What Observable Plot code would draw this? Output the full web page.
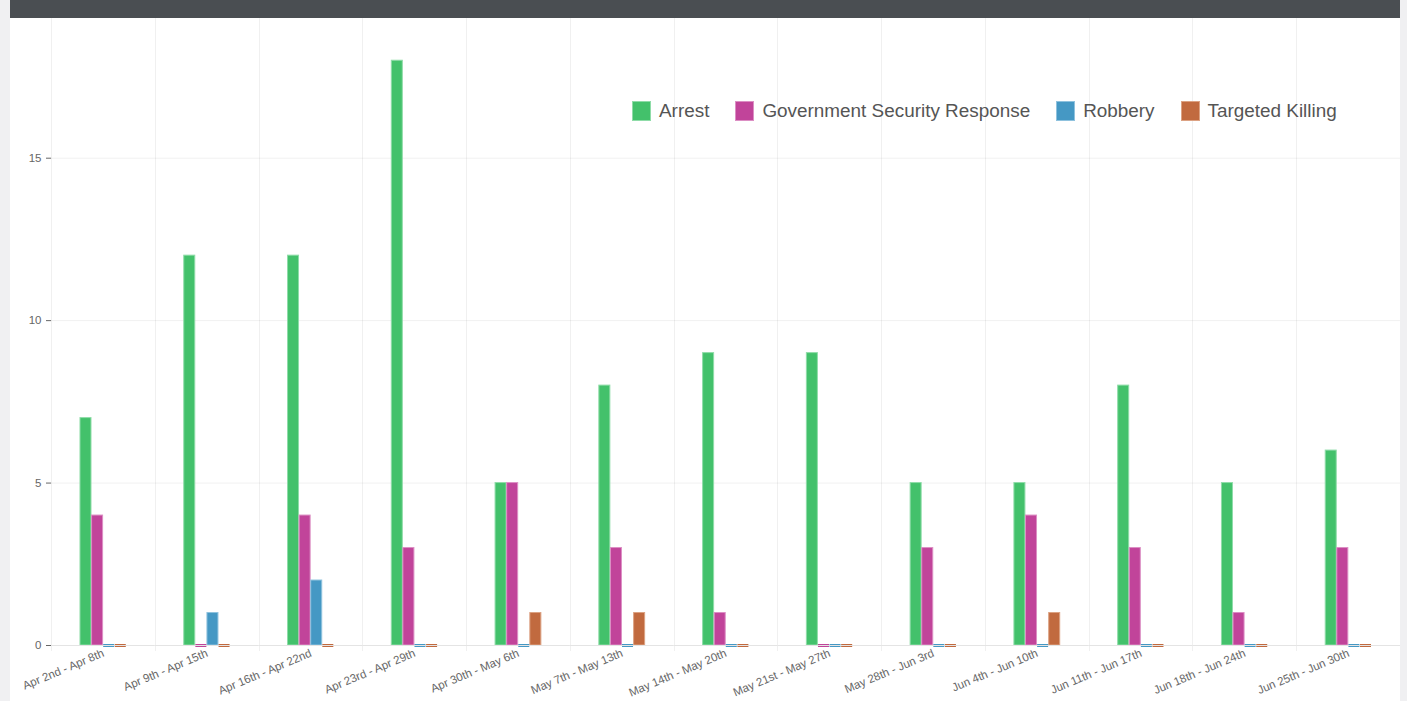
<!DOCTYPE html>
<html>
<head>
<meta charset="utf-8">
<script src="https://cdn.jsdelivr.net/npm/d3@7"></script>
<script src="https://cdn.jsdelivr.net/npm/@observablehq/plot@0.6"></script>
<style>
  html, body { margin: 0; padding: 0; background: #f0f0f2; width: 1407px; height: 701px; overflow: hidden; }
  #card { position: absolute; left: 10px; top: 0; width: 1390px; height: 701px; background: #fff; }
  #header { height: 18px; background: #4a4e52; }
  #chart { position: absolute; left: 0; top: 18px; }
  #legend { position: absolute; left: 622px; top: 100px; display: flex; align-items: center;
            font-family: "Liberation Sans", Arial, Helvetica, sans-serif; font-size: 18.9px; color: #555; white-space: nowrap; }
  .item { display: flex; align-items: center; margin-right: 26px; }
  .sw { width: 19px; height: 20px; margin-right: 8px; box-sizing: border-box; }
  svg text { font-family: "Liberation Sans", Arial, Helvetica, sans-serif; fill: #666; }
</style>
</head>
<body>
<div id="card">
  <div id="header"></div>
  <div id="chart"></div>
  <div id="legend"></div>
</div>
<script>
const weeks = ["Apr 2nd - Apr 8th", "Apr 9th - Apr 15th", "Apr 16th - Apr 22nd", "Apr 23rd - Apr 29th",
  "Apr 30th - May 6th", "May 7th - May 13th", "May 14th - May 20th", "May 21st - May 27th",
  "May 28th - Jun 3rd", "Jun 4th - Jun 10th", "Jun 11th - Jun 17th", "Jun 18th - Jun 24th", "Jun 25th - Jun 30th"];
const seriesNames = ["Arrest", "Government Security Response", "Robbery", "Targeted Killing"];
const colors = ["#43c16b", "#c1449a", "#4598c4", "#c16a3f"];
const borders = ["#8fdca8", "#dc8fc4", "#8fc2de", "#dca283"];
const arrest = [7, 12, 12, 18, 5, 8, 9, 9, 5, 5, 8, 5, 6];
const govSecurity = [4, 0, 4, 3, 5, 3, 1, 0, 3, 4, 3, 1, 3];
const robbery = [0, 1, 2, 0, 0, 0, 0, 0, 0, 0, 0, 0, 0];
const targetedKilling = [0, 0, 0, 0, 1, 1, 0, 0, 0, 1, 0, 0, 0];
const yTicks = [0, 5, 10, 15];

const allSeries = [arrest, govSecurity, robbery, targetedKilling];
const data = [];
weeks.forEach((w, i) => seriesNames.forEach((s, j) => data.push({week: w, series: s, value: allSeries[j][i]})));

const chart = Plot.plot({
  width: 1390,
  height: 683,
  marginLeft: 41,
  marginRight: 0,
  marginTop: 0,
  marginBottom: 56,
  style: {fontSize: "11.5px", color: "#666", background: "transparent"},
  fx: {domain: weeks, padding: 0, round: false, label: null, tickRotate: -23, tickSize: 0, tickPadding: 7},
  x: {domain: seriesNames, paddingInner: 0.05, paddingOuter: 2.5, round: false, axis: null},
  y: {domain: [0, 19.3], ticks: yTicks, label: null, tickSize: 5, tickPadding: 5},
  color: {domain: seriesNames, range: colors},
  marks: [
    Plot.ruleY(yTicks.filter(d => d > 0), {stroke: "#000", strokeOpacity: 0.06}),
    Plot.barY(data.filter(d => d.value > 0), {fx: "week", x: "series", y: "value",
      fill: "series", stroke: d => borders[seriesNames.indexOf(d.series)], strokeWidth: 1}),
    Plot.tickY(data.filter(d => d.value === 0), {fx: "week", x: "series", y: 0,
      stroke: "series", strokeWidth: 3}),
    Plot.ruleY([0], {stroke: "#e4e4e4"})
  ]
});
document.getElementById("chart").appendChild(chart);

// vertical category separators (chart.js style gridlines between categories)
const svg = d3.select(chart);
const fx = chart.scale("fx");
const step = fx.step;
const x0 = fx.apply(weeks[0]);
for (let i = 0; i <= weeks.length; i++) {
  const xp = Math.round(x0 + i * step) + 0.5;
  svg.insert("line", ":first-child").attr("x1", xp).attr("x2", xp)
    .attr("y1", 0).attr("y2", 633).attr("stroke", "#000").attr("stroke-opacity", 0.06);
}

const legend = document.getElementById("legend");
seriesNames.forEach((s, i) => {
  const item = document.createElement("div");
  item.className = "item";
  const sw = document.createElement("div");
  sw.className = "sw";
  sw.style.background = colors[i];
  sw.style.border = "1px solid " + borders[i];
  const t = document.createElement("span");
  t.textContent = s;
  item.appendChild(sw); item.appendChild(t);
  legend.appendChild(item);
});
</script>
</body>
</html>
